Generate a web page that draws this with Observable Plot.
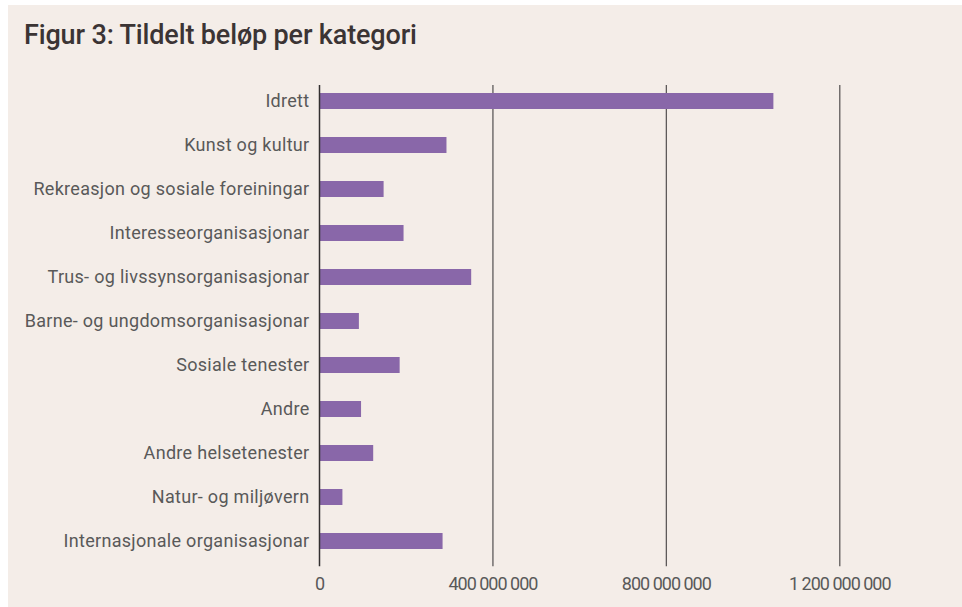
<!DOCTYPE html>
<html>
<head>
<meta charset="utf-8">
<script src="https://cdn.jsdelivr.net/npm/d3@7"></script>
<script src="https://cdn.jsdelivr.net/npm/@observablehq/plot@0.6"></script>
<style>
  html, body { margin: 0; padding: 0; background: #ffffff; }
  #frame {
    position: absolute; left: 8px; top: 5px; width: 954px; height: 602px;
    background: #f4ede8; overflow: hidden;
  }
  #title {
    position: absolute; left: 16px; top: 14px; margin: 0;
    font-family: Roboto, sans-serif; font-weight: 500; font-size: 27px;
    letter-spacing: -0.15px; color: #3b3434; white-space: nowrap;
  }
  #chart { position: absolute; left: 0; top: 65px; }
  .xax text { letter-spacing: -1px; }
  .yax text { letter-spacing: 0.3px; }
</style>
</head>
<body>
<div id="frame">
  <h1 id="title">Figur 3: Tildelt beløp per kategori</h1>
  <div id="chart"></div>
</div>
<script>
const categories = [
  "Idrett",
  "Kunst og kultur",
  "Rekreasjon og sosiale foreiningar",
  "Interesseorganisasjonar",
  "Trus- og livssynsorganisasjonar",
  "Barne- og ungdomsorganisasjonar",
  "Sosiale tenester",
  "Andre",
  "Andre helsetenester",
  "Natur- og miljøvern",
  "Internasjonale organisasjonar"
];
const amounts = [1048e6, 294e6, 149e6, 195e6, 351e6, 92e6, 186e6, 97e6, 125e6, 54e6, 285e6];
const xTicks = [0, 400e6, 800e6, 1200e6];
const gridTicks = [400e6, 800e6, 1200e6];

const data = categories.map((c, i) => ({category: c, amount: amounts[i]}));
const fmt = v => d3.format(",")(v).replace(/,/g, " ");

const chart = Plot.plot({
  width: 954,
  height: 537,
  marginLeft: 311,
  marginRight: 36,
  marginTop: 4.65,
  marginBottom: 40.65,
  style: {
    background: "transparent",
    fontFamily: "Roboto, sans-serif",
    fontSize: "18px",
    color: "#595959",
    overflow: "visible"
  },
  x: {domain: [0, 1400e6], ticks: xTicks, tickFormat: fmt, label: null},
  y: {domain: categories, paddingInner: 0.64, paddingOuter: 0.32, label: null},
  marks: [
    Plot.ruleX(gridTicks, {stroke: "#5e5a5a", strokeWidth: 1.3, insetTop: 10.4}),
    Plot.barX(data, {y: "category", x: "amount", fill: "#8967a9", insetLeft: 1}),
    Plot.ruleX([0], {stroke: "#333030", strokeWidth: 1.5, insetTop: 10.4}),
    Plot.axisX({ticks: xTicks, tickFormat: fmt, tickSize: 0, tickPadding: 10, label: null, fill: "#595959", className: "xax"}),
    Plot.axisY({tickSize: 0, tickPadding: 10, label: null, fill: "#595959", className: "yax"})
  ]
});
document.getElementById("chart").appendChild(chart);
</script>
</body>
</html>
